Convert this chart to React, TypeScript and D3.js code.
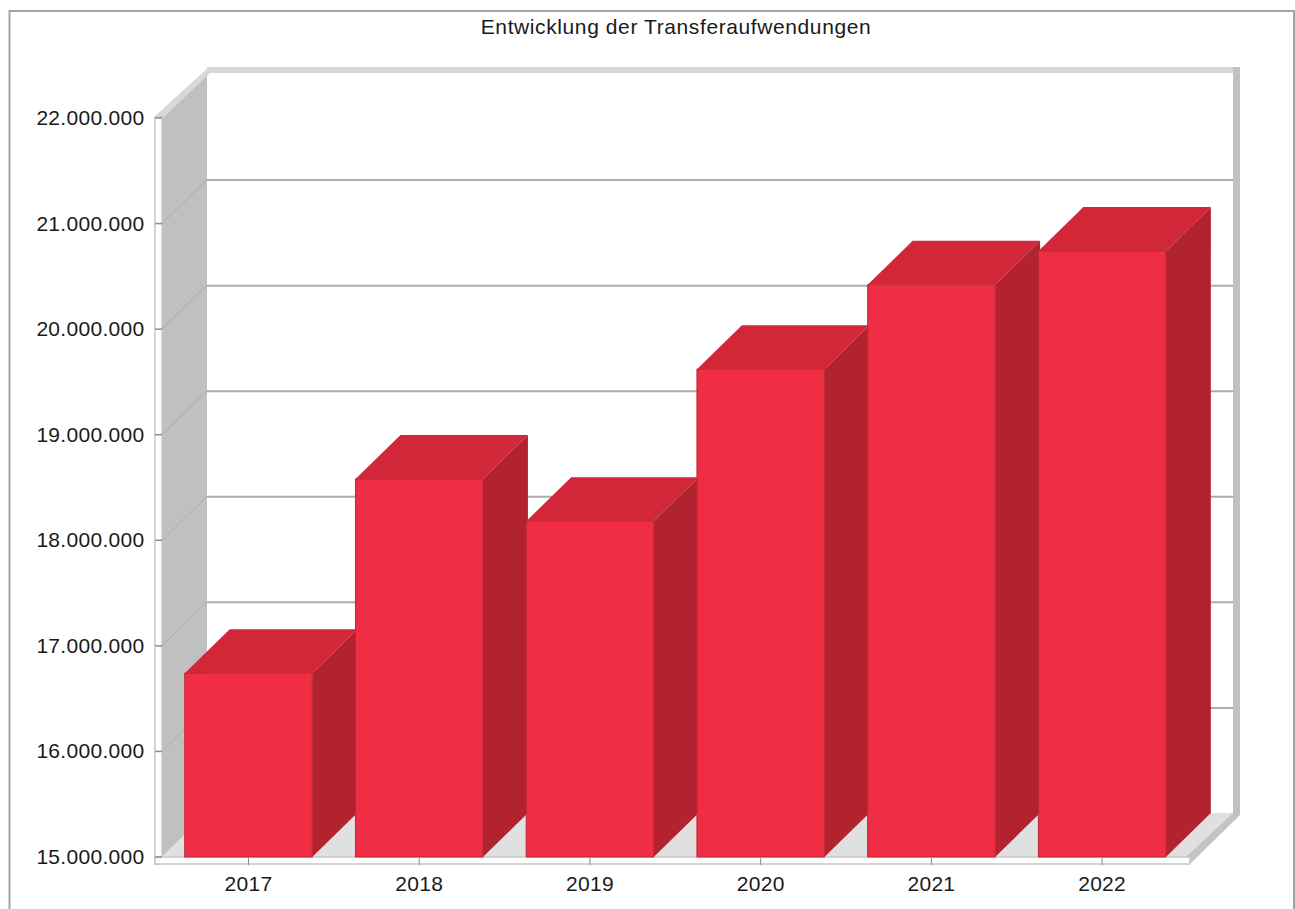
import React from "react";
import * as d3 from "d3";

const categories = ["2017", "2018", "2019", "2020", "2021", "2022"];
const values = [16740000, 18580000, 18180000, 19620000, 20420000, 20740000];
const yTicks = [15000000, 16000000, 17000000, 18000000, 19000000, 20000000, 21000000, 22000000];
const gridTicks = [16000000, 17000000, 18000000, 19000000, 20000000, 21000000];
const title = "Entwicklung der Transferaufwendungen";

const W = 1295, H = 909;
const FONT = "'Liberation Sans', Arial, sans-serif";
const depthX = 45, depthY = 44;

const y = d3.scaleLinear().domain([15000000, 22000000]).range([857, 118]);
const x = d3.scaleBand<string>().domain(categories).range([162.9, 1187.7]).paddingInner(0.2535).paddingOuter(0.128);
const fmt = (v: number) => d3.format(",")(v).replace(/,/g, ".");
const poly = (p: [number, number][]) => d3.line()(p) + "Z";

export default function App() {
  const L = 162, R = 1188, T = y(22000000), B = y(15000000);
  return (
    <svg width={W} height={H} viewBox={`0 0 ${W} ${H}`} style={{ position: "fixed", left: 0, top: 0, background: "#fff" }}>
      {/* chart frame */}
      <path d="M9.5,909V11H1294V909" fill="none" stroke="#a3a3a3" strokeWidth={2} />
      <text x={676} y={34} textAnchor="middle" fontFamily={FONT} fontSize={21} letterSpacing={0.6} fill="#1a1a1a">{title}</text>

      {/* back wall frame */}
      <rect x={L + depthX} y={67} width={1240 - (L + depthX)} height={6} fill="#d6d6d6" />
      <rect x={1233} y={67} width={7} height={B - depthY + 2 - 67} fill="#c0c0c0" />
      {/* left wall */}
      <path d={poly([[L, T], [L + depthX, T - depthY], [L + depthX, B - depthY], [L, B]])} fill="#c0c0c0" />
      <path d={poly([[155, T - 2], [L + 2 + depthX, 67], [L + depthX + 3, 73], [L + 1, T + 0]])} fill="#d8d8d8" />
      <rect x={155} y={T - 1} width={7} height={B - T + 8} fill="#fff" stroke="#c6c6c6" strokeWidth={1.5} />
      {/* floor */}
      <path d={poly([[L, B], [L + depthX, B - depthY], [1233, B - depthY], [R, B]])} fill="#e0e0e0" />
      <path d={poly([[R + 2, B + 7], [1240, B - depthY + 2], [1233, B - depthY], [R - 2, B]])} fill="#c4c4c4" />
      <rect x={155} y={B} width={R + 2 - 155} height={7} fill="#fff" stroke="#c6c6c6" strokeWidth={1.5} />

      {/* grid lines */}
      {gridTicks.map((t) => (
        <g key={t}>
          <line x1={L + depthX} x2={1233} y1={y(t) - depthY + 0.5} y2={y(t) - depthY + 0.5} stroke="#acacac" strokeWidth={2} />
          <line x1={L} x2={L + depthX} y1={y(t)} y2={y(t) - depthY} stroke="#acacac" strokeWidth={1} />
        </g>
      ))}

      {/* y axis */}
      {yTicks.map((t) => (
        <g key={t}>
          <line x1={155} x2={162} y1={y(t)} y2={y(t)} stroke="#8c8c8c" strokeWidth={1.5} />
          <text x={144.5} y={y(t) + 7} textAnchor="end" fontFamily={FONT} fontSize={21} letterSpacing={0.3} fill="#1a1a1a">{fmt(t)}</text>
        </g>
      ))}

      {/* bars */}
      {categories.map((c, i) => {
        const x0 = x(c)!, x1 = x0 + x.bandwidth(), top = y(values[i]);
        return (
          <g key={c}>
            <path d={poly([[x0, top], [x0 + depthX, top - depthY], [x1 + depthX, top - depthY], [x1, top]])} fill="#d22738" />
            <path d={poly([[x1, top], [x1 + depthX, top - depthY], [x1 + depthX, B - depthY], [x1, B]])} fill="#b2222f" />
            <rect x={x0} y={top} width={x.bandwidth()} height={B - top} fill="#f02e43" stroke="#bf2635" strokeWidth={1} />
          </g>
        );
      })}

      {/* x axis */}
      {categories.map((c) => {
        const cx = x(c)! + x.bandwidth() / 2;
        return (
          <g key={c}>
            <line x1={cx} x2={cx} y1={B + 1} y2={B + 8} stroke="#8c8c8c" strokeWidth={1} />
            <text x={cx} y={891} textAnchor="middle" fontFamily={FONT} fontSize={21} letterSpacing={0.3} fill="#1a1a1a">{c}</text>
          </g>
        );
      })}
    </svg>
  );
}
